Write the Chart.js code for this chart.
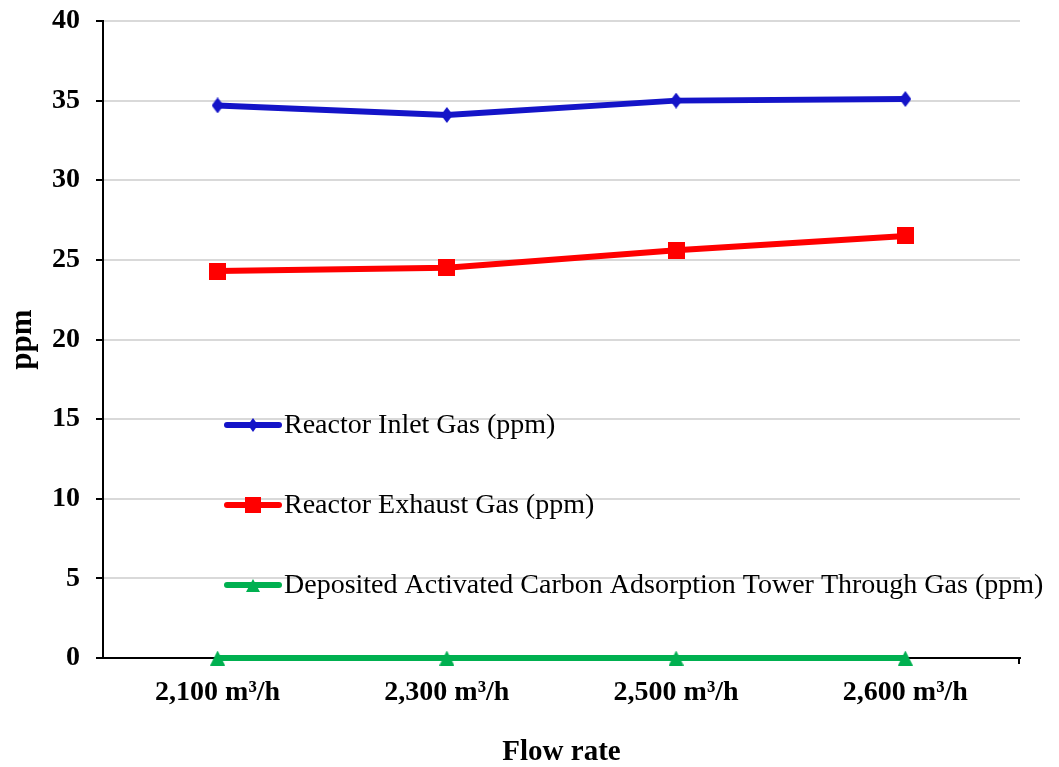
<!DOCTYPE html>
<html>
<head>
<meta charset="utf-8">
<script src="https://cdn.jsdelivr.net/npm/chart.js@4/dist/chart.umd.min.js"></script>
<style>
  html, body { margin: 0; padding: 0; background: #ffffff; }
  #wrap { width: 1059px; height: 767px; position: relative; }
</style>
</head>
<body>
<div id="wrap"><canvas id="c"></canvas></div>
<script>
// Flow-rate categories and measured concentrations (ppm)
const flowRates = ['2,100 m³/h', '2,300 m³/h', '2,500 m³/h', '2,600 m³/h'];
const inletGas = [34.7, 34.1, 35.0, 35.1];
const exhaustGas = [24.3, 24.5, 25.6, 26.5];
const towerGas = [0, 0, 0, 0];
const yTicks = [0, 5, 10, 15, 20, 25, 30, 35, 40];

const seriesNames = [
  'Reactor Inlet Gas (ppm)',
  'Reactor Exhaust Gas (ppm)',
  'Deposited Activated Carbon Adsorption Tower Through Gas (ppm)'
];

const BLUE = '#1414c8';
const RED = '#ff0000';
const GREEN = '#00b050';
const SERIF = "'Liberation Serif', 'Times New Roman', serif";

// Builds a small marker image (diamond, square or triangle) of w x h pixels
function makeMarker(shape, w, h, color) {
  const cv = document.createElement('canvas');
  cv.width = w;
  cv.height = h;
  const g = cv.getContext('2d');
  g.fillStyle = color;
  g.beginPath();
  if (shape === 'diamond') {
    g.moveTo(w / 2, 0);
    g.lineTo(w, h / 2);
    g.lineTo(w / 2, h);
    g.lineTo(0, h / 2);
  } else if (shape === 'square') {
    g.rect(0, 0, w, h);
  } else {
    g.moveTo(w / 2, 0);
    g.lineTo(w, h);
    g.lineTo(0, h);
  }
  g.closePath();
  g.fill();
  return cv;
}

const markers = [
  makeMarker('diamond', 12, 16, BLUE),
  makeMarker('square', 17, 17, RED),
  makeMarker('triangle', 15, 15, GREEN)
];
const legendMarkers = [
  makeMarker('diamond', 10, 14, BLUE),
  makeMarker('square', 16, 16, RED),
  makeMarker('triangle', 14, 13, GREEN)
];

// Legend drawn inside the plot area, one entry per row
const insideLegend = {
  id: 'insideLegend',
  afterDraw(chart) {
    const ctx = chart.ctx;
    const rows = [425, 505, 585];
    chart.data.datasets.forEach((ds, i) => {
      const y = rows[i];
      ctx.save();
      ctx.strokeStyle = ds.borderColor;
      ctx.lineWidth = 6;
      ctx.lineCap = 'round';
      ctx.beginPath();
      ctx.moveTo(227, y);
      ctx.lineTo(279, y);
      ctx.stroke();
      const m = legendMarkers[i];
      ctx.drawImage(m, Math.round(253 - m.width / 2), Math.round(y - m.height / 2));
      ctx.fillStyle = '#000000';
      ctx.font = '28px ' + SERIF;
      ctx.textAlign = 'left';
      ctx.textBaseline = 'middle';
      ctx.fillText(ds.label, 284, y + 1);
      ctx.restore();
    });
    // small tick at the right end of the category axis
    const xs = chart.scales.x;
    ctx.save();
    ctx.strokeStyle = '#000000';
    ctx.lineWidth = 2;
    ctx.beginPath();
    ctx.moveTo(xs.right - 1, xs.top);
    ctx.lineTo(xs.right - 1, xs.top + 6);
    ctx.stroke();
    ctx.restore();
  }
};

new Chart(document.getElementById('c'), {
  type: 'line',
  data: {
    labels: flowRates,
    datasets: [
      {
        label: seriesNames[0], data: inletGas,
        borderColor: BLUE, backgroundColor: BLUE,
        borderWidth: 6, pointStyle: markers[0], pointRadius: 8,
        tension: 0, clip: false
      },
      {
        label: seriesNames[1], data: exhaustGas,
        borderColor: RED, backgroundColor: RED,
        borderWidth: 6, pointStyle: markers[1], pointRadius: 9,
        tension: 0, clip: false
      },
      {
        label: seriesNames[2], data: towerGas,
        borderColor: GREEN, backgroundColor: GREEN,
        borderWidth: 6, pointStyle: markers[2], pointRadius: 8,
        tension: 0, clip: false
      }
    ]
  },
  options: {
    responsive: true,
    maintainAspectRatio: false,
    animation: false,
    layout: { padding: { left: 0, right: 39, top: 21, bottom: 0 } },
    plugins: {
      legend: { display: false },
      tooltip: { enabled: false }
    },
    scales: {
      x: {
        offset: true,
        grid: { display: false, drawTicks: false },
        border: { display: true, color: '#000000', width: 2 },
        ticks: {
          color: '#000000', padding: 18,
          font: { family: SERIF, size: 28, weight: 'bold' }
        },
        title: {
          display: true, text: 'Flow rate', color: '#000000',
          padding: { top: 0, bottom: -3 },
          font: { family: SERIF, size: 29, weight: 'bold' }
        },
        afterFit(scale) {
          scale.height = 109;
          scale.paddingLeft = 0;
          scale.paddingRight = 0;
        }
      },
      y: {
        min: 0, max: 40,
        afterBuildTicks(scale) { scale.ticks = yTicks.map(v => ({ value: v })); },
        grid: {
          color: ctx => (ctx.tick && ctx.tick.value === 0) ? 'rgba(0,0,0,0)' : '#d9d9d9',
          lineWidth: 2,
          tickLength: 7,
          tickColor: '#000000',
          tickWidth: 2
        },
        border: { display: true, color: '#000000', width: 2 },
        ticks: {
          color: '#000000', padding: 16,
          font: { family: SERIF, size: 28, weight: 'bold' }
        },
        title: {
          display: true, text: 'ppm', color: '#000000',
          padding: { top: 4, bottom: 0 },
          font: { family: SERIF, size: 31, weight: 'bold' }
        },
        afterFit(scale) {
          scale.width = 103;
          scale.paddingTop = 0;
          scale.paddingBottom = 0;
        }
      }
    }
  },
  plugins: [insideLegend]
});
</script>
</body>
</html>
